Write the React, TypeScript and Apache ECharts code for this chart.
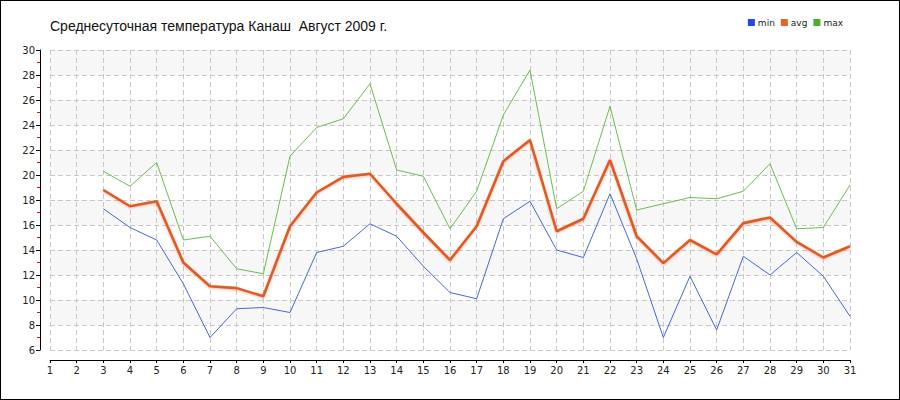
import React, { useEffect, useRef } from "react";
import * as echarts from "echarts";

const days = Array.from({ length: 31 }, (_, i) => String(i + 1));
const minTemps = [null, null, 17.3, 15.8, 14.8, 11.3, 7.0, 9.3, 9.4, 9.0, 13.8, 14.3, 16.1, 15.1, 12.7, 10.6, 10.1, 16.5, 17.9, 14.0, 13.4, 18.5, 13.3, 7.0, 11.9, 7.6, 13.5, 12.0, 13.8, 11.9, 8.7];
const avgTemps = [null, null, 18.8, 17.5, 17.9, 13.0, 11.1, 10.95, 10.3, 15.9, 18.6, 19.85, 20.1, 17.7, 15.4, 13.2, 15.9, 21.1, 22.8, 15.5, 16.5, 21.2, 15.1, 12.95, 14.8, 13.65, 16.15, 16.6, 14.65, 13.4, 14.3];
const maxTemps = [null, null, 20.3, 19.1, 21.0, 14.8, 15.1, 12.5, 12.1, 21.5, 23.8, 24.5, 27.3, 20.4, 19.9, 15.7, 18.7, 24.8, 28.4, 17.3, 18.7, 25.5, 17.2, 17.7, 18.2, 18.1, 18.7, 20.9, 15.7, 15.8, 19.2];

const FONT = 'Tahoma, "DejaVu Sans", "Liberation Sans", sans-serif';

export default function App() {
  const ref = useRef<HTMLDivElement>(null);
  useEffect(() => {
    if (!ref.current) return;
    const chart = echarts.init(ref.current, null, { renderer: "svg" });
    const dashed = { color: "#c8c8c8", type: [5, 3] as any, width: 1 };
    chart.setOption({
      animation: false,
      backgroundColor: "transparent",
      title: {
        text: "Среднесуточная температура Канаш  Август 2009 г.",
        left: 45,
        top: 14,
        textStyle: { fontFamily: '"Liberation Sans", Arial, sans-serif', fontSize: 14, fontWeight: "normal", color: "#111" },
      },
      legend: {
        right: 52,
        top: 13,
        itemWidth: 7,
        itemHeight: 7,
        itemGap: 6,
        icon: "rect",
        textStyle: { fontFamily: FONT, fontSize: 9, color: "#222", padding: [0, 0, 0, -2] },
        data: ["min", "avg", "max"],
      },
      grid: { left: 50, right: 50, top: 50, bottom: 50, containLabel: false },
      xAxis: {
        type: "category",
        data: days,
        boundaryGap: false,
        offset: 10,
        axisLine: { show: true, lineStyle: { color: "#000", width: 1 } },
        axisTick: { show: true, length: 3, lineStyle: { color: "#000" }, alignWithLabel: true },
        axisLabel: { fontFamily: FONT, fontSize: 10, color: "#222", margin: 5, interval: 0 },
        splitLine: { show: true, interval: 0, lineStyle: dashed },
      },
      yAxis: {
        type: "value",
        min: 6,
        max: 30,
        interval: 2,
        offset: 10,
        axisLine: { show: true, lineStyle: { color: "#000", width: 1 } },
        axisTick: { show: true, length: 4, lineStyle: { color: "#000" } },
        minorTick: { show: true, splitNumber: 2, length: 3, lineStyle: { color: "#ff0000" } },
        axisLabel: { fontFamily: FONT, fontSize: 10, color: "#222", margin: 5 },
        splitLine: { show: true, lineStyle: dashed },
        splitArea: { show: true, areaStyle: { color: ["rgba(255,255,255,0)", "#f7f7f7"] } },
      },
      series: [
        {
          name: "min",
          type: "line",
          data: minTemps,
          showSymbol: false,
          symbol: "none",
          color: "#2447e6",
          lineStyle: { color: "#4466e0", width: 1 },
          z: 3,
        },
        {
          name: "avg",
          type: "line",
          data: avgTemps,
          showSymbol: false,
          symbol: "none",
          color: "#e8622a",
          lineStyle: {
            color: "#e05a24",
            width: 2.6,
            shadowColor: "rgba(230,110,70,0.45)",
            shadowBlur: 2,
            shadowOffsetY: 1,
          },
          z: 4,
        },
        {
          name: "max",
          type: "line",
          data: maxTemps,
          showSymbol: false,
          symbol: "none",
          color: "#4cae2a",
          lineStyle: { color: "#6cbc4c", width: 1 },
          z: 2,
        },
      ],
    });
    return () => chart.dispose();
  }, []);
  return (
    <div style={{ position: "fixed", left: 0, top: 0, width: 900, height: 400, background: "#fff" }}>
      <div ref={ref} style={{ position: "absolute", left: 0, top: 0, width: 900, height: 400 }} />
      <div
        style={{
          position: "absolute",
          left: 0,
          top: 0,
          width: 900,
          height: 400,
          boxSizing: "border-box",
          border: "1px solid #000",
          pointerEvents: "none",
        }}
      />
    </div>
  );
}
